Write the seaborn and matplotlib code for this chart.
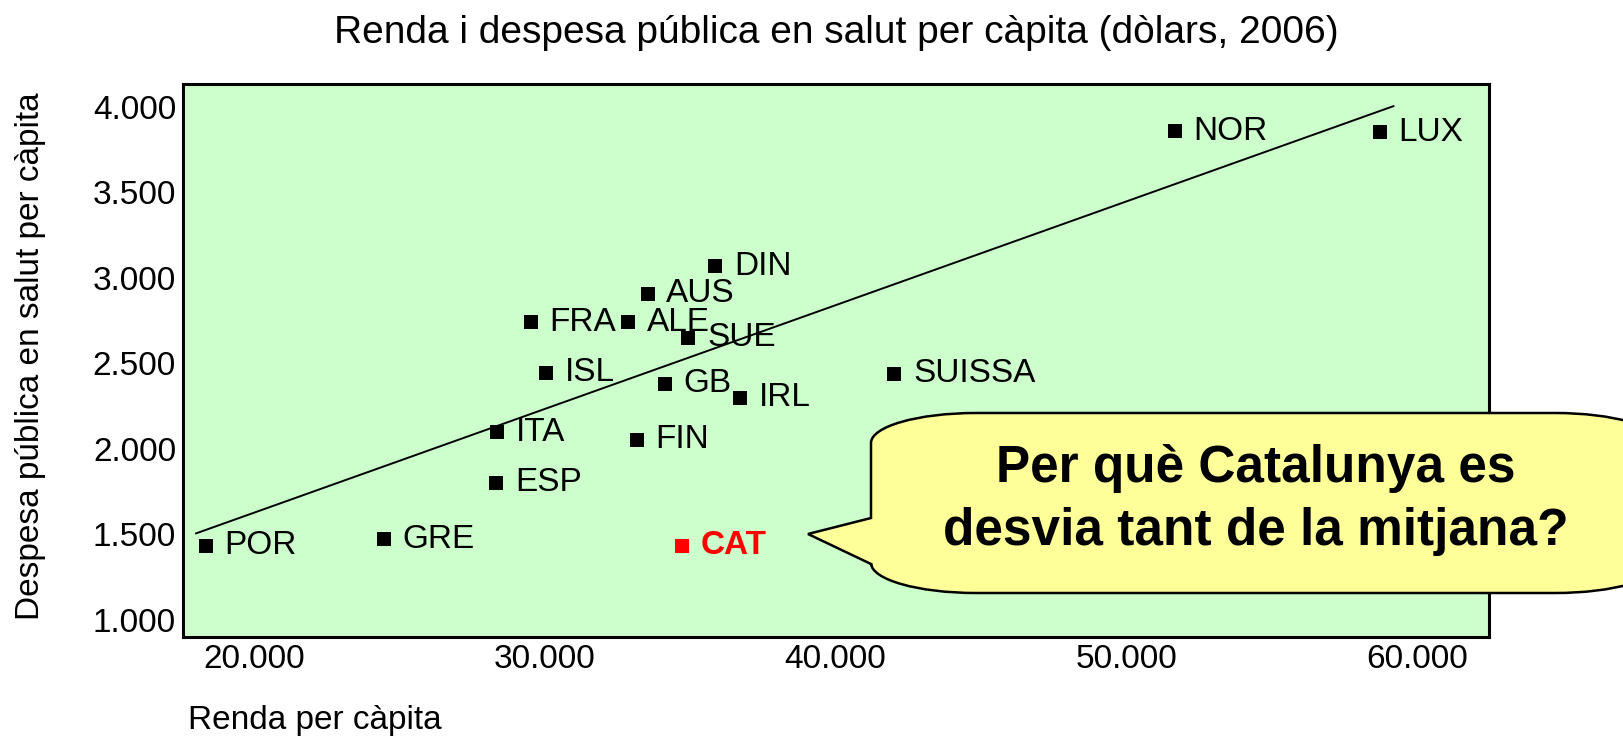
import numpy as np
import pandas as pd
import seaborn as sns
import matplotlib.pyplot as plt
from matplotlib.path import Path
from matplotlib.patches import PathPatch
from matplotlib.ticker import FuncFormatter

# dades (llegides del gràfic)
paisos = ["POR", "GRE", "CAT", "ESP", "ITA", "FIN", "ISL", "GB", "IRL", "SUISSA",
          "FRA", "ALE", "SUE", "AUS", "DIN", "NOR", "LUX"]
renda = [18350, 24470, 34730, 28330, 28360, 33170, 30060, 34140, 36730, 42030,
         29520, 32870, 34940, 33540, 35870, 51670, 58730]
despesa = [1432, 1472, 1433, 1802, 2097, 2054, 2445, 2381, 2299, 2440,
           2741, 2741, 2650, 2907, 3067, 3856, 3850]
tendencia_x = [18000, 59200]
tendencia_y = [1505, 4003]

x_ticks = [20000, 30000, 40000, 50000, 60000]
y_ticks = [1000, 1500, 2000, 2500, 3000, 3500, 4000]

titol = "Renda i despesa pública en salut per càpita (dòlars, 2006)"
etiq_x = "Renda per càpita"
etiq_y = "Despesa pública en salut per càpita"
bombolla = ["Per què Catalunya es", "desvia tant de la mitjana?"]

df = pd.DataFrame({"pais": paisos, "renda": renda, "despesa": despesa})
df["cat"] = df["pais"] == "CAT"

sns.set_style("white")
plt.rcParams["font.family"] = ["Liberation Sans", "DejaVu Sans"]
plt.rcParams["text.color"] = "black"
plt.rcParams["xtick.color"] = "black"
plt.rcParams["ytick.color"] = "black"

W, H = 1623, 740
fig = plt.figure(figsize=(W / 100, H / 100), dpi=100)
ax = fig.add_axes([183 / W, 1 - 637 / H, (1489 - 183) / W, (637 - 84) / H])
ax.set_facecolor("#CCFFCC")

sns.lineplot(x=tendencia_x, y=tendencia_y, color="black", linewidth=1.4, ax=ax)
sns.scatterplot(data=df[~df["cat"]], x="renda", y="despesa", marker="s", s=100,
                color="black", linewidth=0, ax=ax, zorder=3)
sns.scatterplot(data=df[df["cat"]], x="renda", y="despesa", marker="s", s=100,
                color="#FF0000", linewidth=0, ax=ax, zorder=3)

for _, r in df.iterrows():
    if r["cat"]:
        ax.annotate(r["pais"], (r["renda"], r["despesa"]), xytext=(13.5, 0),
                    textcoords="offset points", va="center", fontsize=24,
                    color="#FF0000", fontweight="bold")
    else:
        ax.annotate(r["pais"], (r["renda"], r["despesa"]), xytext=(13.5, 0),
                    textcoords="offset points", va="center", fontsize=24,
                    color="black")

ax.set_xlim(17560, 62480)
ax.set_ylim(900, 4132)
ax.set_xticks(x_ticks)
ax.set_yticks(y_ticks)
fmt = FuncFormatter(lambda v, p: f"{v:,.0f}".replace(",", "."))
ax.xaxis.set_major_formatter(fmt)
ax.yaxis.set_major_formatter(fmt)
ax.tick_params(length=0, labelsize=24, pad=5, labelcolor="black")
ax.set_xlabel("")
ax.set_ylabel("")
for sp in ax.spines.values():
    sp.set_visible(True)
    sp.set_color("black")
    sp.set_linewidth(2.2)

fig.text(836 / W, 1 - 43 / H, titol, ha="center", va="baseline", fontsize=28)
fig.text(188 / W, 1 - 721 / H, etiq_x, ha="left", va="center", fontsize=24)
fig.text(31 / W, 1 - 356 / H, etiq_y, ha="center", va="center", rotation=90, fontsize=24)

# bombolla (coordenades en píxels de la figura, y cap avall)
L, T, R, B = 871, 413, 1660, 593
rx, ry = 105, 30
k = 0.5523
pts = [
    (L + rx, T),
    (R - rx, T), (R - rx + k * rx, T), (R, T + ry - k * ry), (R, T + ry),
    (R, B - ry), (R, B - ry + k * ry), (R - rx + k * rx, B), (R - rx, B),
    (L + rx, B), (L + rx - k * rx, B), (L, B - ry + k * ry), (L, B - ry),
    (L, 564), (808, 534), (L, 518),
    (L, T + ry), (L, T + ry - k * ry), (L + rx - k * rx, T), (L + rx, T),
]
codes = [Path.MOVETO,
         Path.LINETO, Path.CURVE4, Path.CURVE4, Path.CURVE4,
         Path.LINETO, Path.CURVE4, Path.CURVE4, Path.CURVE4,
         Path.LINETO, Path.CURVE4, Path.CURVE4, Path.CURVE4,
         Path.LINETO, Path.LINETO, Path.LINETO,
         Path.LINETO, Path.CURVE4, Path.CURVE4, Path.CURVE4]
verts = [(x / W, 1 - y / H) for x, y in pts]
patch = PathPatch(Path(verts, codes), facecolor="#FFFF99", edgecolor="black",
                  linewidth=1.8, transform=fig.transFigure, zorder=10, clip_on=False)
fig.add_artist(patch)
fig.text(1256 / W, 1 - 482 / H, bombolla[0], ha="center", va="baseline",
         fontsize=37, fontweight="bold", zorder=11)
fig.text(1256 / W, 1 - 545 / H, bombolla[1], ha="center", va="baseline",
         fontsize=37, fontweight="bold", zorder=11)

fig.savefig("out.png", dpi=100)
